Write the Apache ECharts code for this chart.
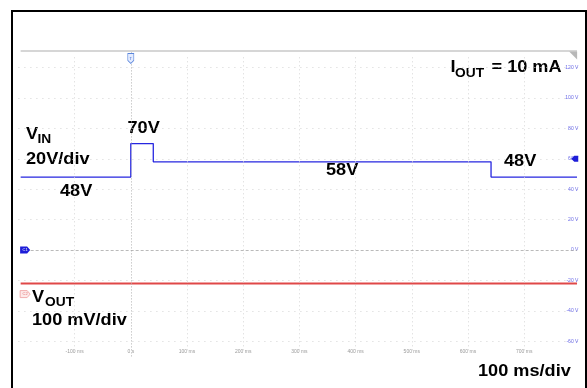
<!DOCTYPE html>
<html>
<head>
<meta charset="utf-8">
<script src="https://cdn.jsdelivr.net/npm/echarts@6/dist/echarts.min.js"></script>
<style>
html,body{margin:0;padding:0;background:#fff;}
#chart{width:587px;height:388px;}
</style>
</head>
<body>
<div id="chart"></div>
<script>
// ---- data ----
const vinTime = [-196, 0, 0, 40, 40, 641, 641, 794];   // ms
const vinLevel = [48, 48, 70, 70, 58, 58, 48, 48];      // V (20V/div)
const voutTime = [-196, 794];
const voutLevel = [-22, -22];                           // screen level (100 mV/div)
const xTicks = [-100, 0, 100, 200, 300, 400, 500, 600, 700];
const xTickLabels = ['-100 ms', '0 s', '100 ms', '200 ms', '300 ms', '400 ms', '500 ms', '600 ms', '700 ms'];
const yTicks = [-60, -40, -20, 0, 20, 40, 60, 80, 100, 120];
const yTickLabels = ['-60 V', '-40 V', '-20 V', '0 V', '20 V', '40 V', '60 V', '80 V', '100 V', '120 V'];
const screenTop = 131, screenBottom = -66;

const chart = echarts.init(document.getElementById('chart'), null, {renderer: 'canvas'});

const vin = vinTime.map((t, i) => [t, vinLevel[i]]);
const vout = voutTime.map((t, i) => [t, voutLevel[i]]);

const vGrid = xTicks.filter(t => t !== 0).map(t => [
  {coord: [t, screenBottom], lineStyle: {color: '#d6d6d6', type: [1, 3], width: 1}},
  {coord: [t, screenTop - 3]}
]);
vGrid.push([
  {coord: [0, screenBottom - 4], lineStyle: {color: '#b0b0b0', type: [1, 2], width: 1}},
  {coord: [0, screenTop]}
]);

const font = (s) => 'bold ' + s + 'px "Liberation Sans", Arial, sans-serif';
function txt(x, y, s, size) {
  return {type: 'text', x: x, y: y, scaleX: 1.1, silent: true,
    style: {text: s, font: font(size), fill: '#000', align: 'left', textAlign: 'left',
      verticalAlign: 'middle', textVerticalAlign: 'middle'}};
}

const option = {
  animation: false,
  grid: {left: 18.4, right: 6.6, top: 37.2, bottom: 16.4, containLabel: false},
  xAxis: {
    type: 'value', min: -200, max: 800, interval: 100,
    axisLine: {show: false}, axisTick: {show: false},
    splitLine: {show: false},
    axisLabel: {
      inside: true, margin: 17, fontSize: 5, color: '#9a9a9a', fontFamily: 'Liberation Sans',
      formatter: v => { const i = xTicks.indexOf(v); return i >= 0 ? xTickLabels[i] : ''; }
    }
  },
  yAxis: {
    type: 'value', position: 'right', min: -80, max: 140, interval: 20,
    axisLine: {show: false}, axisTick: {show: false},
    axisLabel: {
      inside: true, margin: 2, fontSize: 5, color: '#6b6be8', fontFamily: 'Liberation Sans',
      formatter: v => { const i = yTicks.indexOf(v); return i >= 0 ? yTickLabels[i] : ''; }
    },
    splitLine: {
      show: true,
      lineStyle: {
        type: [1, 5], width: 1,
        color: ['rgba(0,0,0,0)', '#d4d4d4', '#d4d4d4', '#d4d4d4', 'rgba(0,0,0,0)', '#d4d4d4',
                '#d4d4d4', '#d4d4d4', '#d4d4d4', '#d4d4d4', '#d4d4d4', 'rgba(0,0,0,0)']
      }
    }
  },
  series: [
    {
      type: 'line', data: vout, showSymbol: false, z: 3,
      lineStyle: {color: '#e04848', width: 2},
      markPoint: {
        silent: true,
        data: [{
          coord: [-188, -29], symbol: 'path://M0,0 H7 L10,3.5 L7,7 H0 Z', symbolSize: [10, 7],
          itemStyle: {color: '#fdeaea', borderColor: '#f0a0a0', borderWidth: 0.8},
          label: {show: true, formatter: 'C2', fontSize: 4, color: '#e07070', position: 'inside'}
        }]
      }
    },
    {
      type: 'line', data: vin, showSymbol: false, z: 4,
      lineStyle: {color: '#2626e0', width: 1.3},
      markLine: {
        silent: true, symbol: 'none', label: {show: false},
        data: vGrid.concat([
          [{coord: [-196, screenTop], lineStyle: {color: '#c8c8c8', type: 'solid', width: 1.6}}, {coord: [794, screenTop]}],
          [{coord: [-196, 0], lineStyle: {color: '#a8a8a8', type: [3, 2], width: 0.8}}, {coord: [794, 0]}]
        ])
      },
      markPoint: {
        silent: true,
        data: [
          {
            coord: [-188, 0], symbol: 'path://M0,0 H7 L10,3.5 L7,7 H0 Z', symbolSize: [10, 7],
            itemStyle: {color: '#1d1dd8'},
            label: {show: true, formatter: 'C1', fontSize: 4, color: '#fff', position: 'inside'}
          },
          {
            coord: [0, 126], symbol: 'path://M0,0 H6 V7 L3,10 L0,7 Z', symbolSize: [6, 10],
            itemStyle: {color: '#e4ecff', borderColor: '#5a86dc', borderWidth: 0.8},
            label: {show: true, formatter: 'T', fontSize: 4, color: '#3a66cc', position: 'inside'}
          },
          {
            coord: [790, 60], symbol: 'path://M3,0 H7 V6 H3 L0,3 Z', symbolSize: [7, 6],
            itemStyle: {color: '#1d1dd8'}, label: {show: false}
          },
          {
            coord: [787, 128], symbol: 'path://M0,0 H10 V10 Z', symbolSize: [8, 8],
            itemStyle: {color: '#b8b8b8'}, label: {show: false}
          }
        ]
      }
    }
  ],
  graphic: [
    {type: 'rect', silent: true, shape: {x: 12, y: 11, width: 574, height: 400},
      style: {fill: 'none', stroke: '#000', lineWidth: 2}},
    txt(26, 134, 'V', 16.5),
    txt(37.5, 140, 'IN', 12.5),
    txt(26, 159, '20V/div', 16.5),
    txt(127.5, 128.5, '70V', 16.5),
    txt(60, 191.5, '48V', 16.5),
    txt(326, 170, '58V', 16.5),
    txt(504, 161.5, '48V', 16.5),
    txt(450.5, 67, 'I', 16.5),
    txt(455, 73.5, 'OUT', 12.5),
    txt(491.5, 67, '= 10 mA', 16.5),
    txt(32, 297, 'V', 16.5),
    txt(45, 302.5, 'OUT', 12.5),
    txt(32, 320.5, '100 mV/div', 16.5),
    txt(478, 371, '100 ms/div', 16.5)
  ]
};
chart.setOption(option);
</script>
</body>
</html>
